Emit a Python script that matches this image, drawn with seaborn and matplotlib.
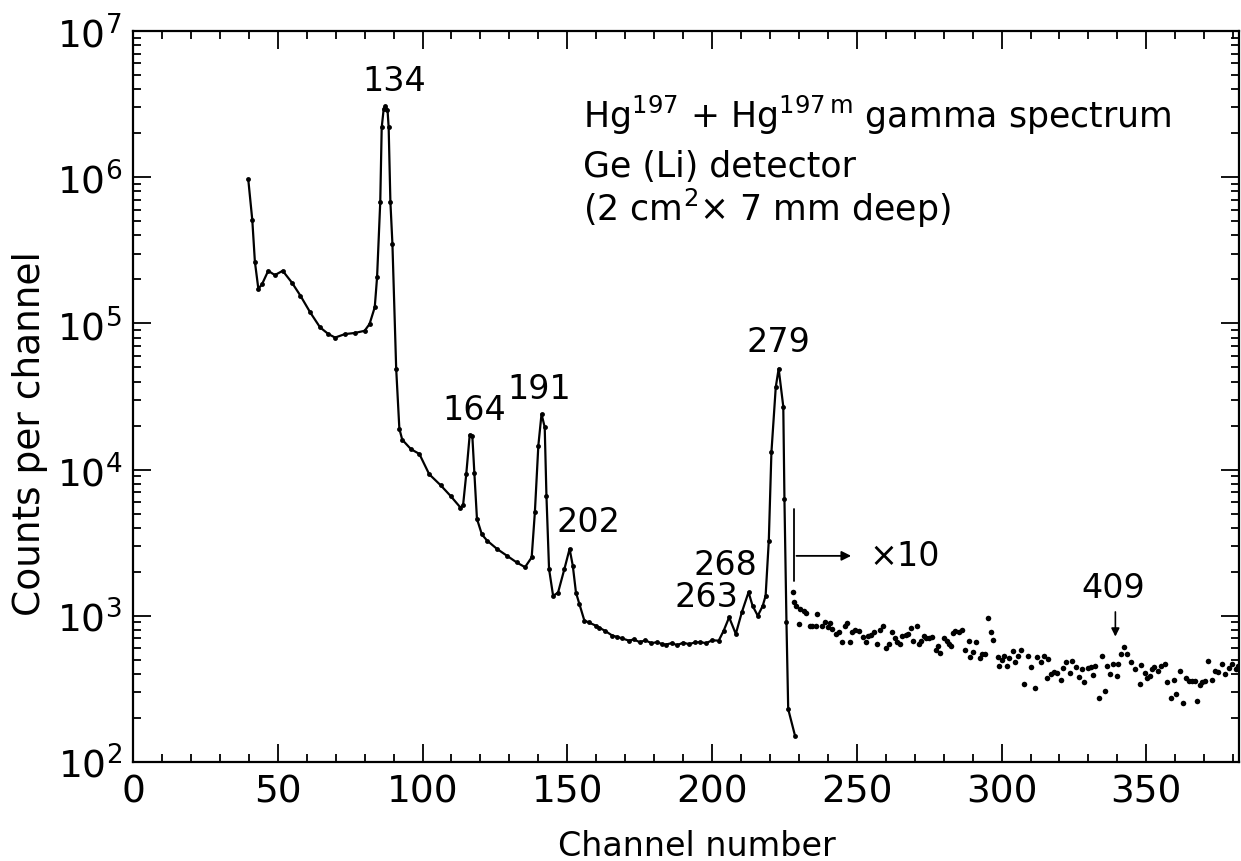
import numpy as np
import pandas as pd
import matplotlib
matplotlib.use("Agg")
import matplotlib.pyplot as plt
import seaborn as sns
from matplotlib.ticker import MultipleLocator, LogLocator, NullFormatter

# main spectrum (solid line with channel dots)
channel = [39.8, 41.2, 42.1, 43.3, 44.6, 46.7, 49.0, 51.7, 54.9, 57.8, 61.2, 64.6,
           67.5, 69.8, 73.2, 76.6, 80.0, 81.7, 83.5, 84.3, 85.4, 85.9, 86.6, 87.2, 87.9,
           88.3, 88.9, 89.6, 90.9, 92.0, 93.0, 96.0, 98.9, 102.3, 106.3, 109.7, 113.1, 114.0,
           115.1, 116.3, 117.2, 117.9, 118.8, 120.5, 122.3, 125.7, 129.1, 132.5, 135.4,
           137.7, 138.8, 140.0, 141.1, 142.2, 142.8, 143.7, 145.1, 146.8, 149.0, 150.8,
           151.9, 153.0, 154.2, 155.9, 157.5, 159.9, 161.0, 163.0, 165.6, 167.0, 169.0,
           171.3, 173.0, 175.0, 177.0, 179.0, 181.0, 182.7, 184.0, 186.0, 188.0, 190.0,
           192.0, 194.2, 196.0, 198.0, 200.0, 202.3, 204.0, 205.9, 208.2, 210.3, 212.6,
           214.0, 215.8, 217.5, 218.5, 219.6, 220.5, 222.0, 223.0, 224.6, 225.0, 225.7,
           226.3, 228.7]
counts = [9.7e5, 5.1e5, 2.64e5, 1.72e5, 1.86e5, 2.29e5, 2.14e5, 2.29e5, 1.90e5, 1.55e5,
          1.19e5, 9.4e4, 8.45e4, 8.0e4, 8.45e4, 8.6e4, 8.9e4, 9.9e4, 1.29e5, 2.07e5,
          6.8e5, 2.19e6, 2.95e6, 3.08e6, 2.9e6, 2.2e6, 6.8e5, 3.5e5, 4.9e4, 1.9e4, 1.6e4,
          1.38e4, 1.28e4, 9.3e3, 7.8e3, 6.6e3, 5.5e3, 5.7e3, 9.3e3, 1.73e4, 1.7e4, 9.5e3,
          4.6e3, 3.6e3, 3.27e3, 2.87e3, 2.58e3, 2.32e3, 2.15e3, 2.51e3, 5.1e3, 1.46e4,
          2.4e4, 1.95e4, 6.6e3, 2.09e3, 1.37e3, 1.44e3, 2.09e3, 2.87e3, 2.2e3, 1.44e3,
          1.2e3, 927, 900, 855, 830, 790, 731, 720, 700, 676, 690, 660, 680, 650, 660,
          641, 635, 650, 630, 655, 640, 658, 660, 650, 680, 676, 790, 977, 752, 1060,
          1450, 1170, 1000, 1170, 1370, 3270, 1.31e4, 3.66e4, 4.9e4, 2.7e4, 6.3e3, 900,
          230, 150]

# x10 continuation (dots only)
x10_channel = [228.0, 228.2, 229.1, 229.9, 230.5, 231.9, 232.6, 234.0, 234.6, 236.0, 236.4,
               237.9, 239.1, 239.9, 240.8, 241.4, 242.8, 244.0, 244.8, 245.8, 246.7, 247.8,
               248.4, 249.5, 250.8, 252.2, 253.1, 253.8, 254.9, 255.8, 256.9, 257.9, 258.9,
               260.1, 261.0, 262.2, 263.1, 264.0, 264.8, 265.7, 266.9, 267.8, 268.7, 269.5,
               270.7, 271.4, 272.2, 273.1, 273.9, 275.1, 275.9, 277.2, 278.1, 278.9, 280.0,
               281.0, 281.9, 282.4, 283.3, 284.0, 285.4, 286.3, 287.4, 288.6, 289.2, 290.1,
               291.1, 292.4, 293.3, 294.1, 295.3, 296.2, 297.2, 298.6, 299.2, 300.0, 300.9,
               301.9, 302.7, 303.9, 304.7, 305.6, 306.6, 307.7, 309.2, 310.3, 311.7, 312.4,
               313.6, 314.6, 315.6, 316.2, 317.1, 318.2, 319.1, 320.5, 321.2, 322.3, 323.8,
               324.4, 325.6, 326.8, 327.7, 328.5, 329.7, 330.9, 331.5, 332.4, 333.5, 334.7,
               335.6, 336.4, 337.3, 338.5, 339.7, 340.3, 341.4, 342.3, 343.4, 344.6, 346.1,
               347.7, 348.1, 349.4, 350.2, 351.4, 352.0, 352.8, 354.0, 355.2, 356.3, 357.3,
               358.5, 359.4, 360.2, 361.7, 362.6, 363.7, 364.9, 365.7, 366.7, 367.6, 368.4,
               369.2, 370.4, 371.4, 372.8, 373.7, 374.9, 376.1, 377.3, 378.5, 379.6, 380.8,
               381.7]
x10_counts = [1462, 1250, 1162, 875, 1114, 1080, 1045, 857, 848, 848, 1029,
              848, 912, 834, 893, 813, 751, 771, 666, 848, 893, 659, 780,
              804, 791, 713, 666, 724, 739, 780, 639, 804, 848, 606, 642, 780,
              702, 659, 642, 731, 739, 751, 821, 677, 857, 642, 677, 724,
              702, 702, 713, 587, 625, 554, 702, 677, 642, 625, 763, 791,
              771, 804, 587, 677, 520, 563, 659, 512, 548, 548, 966, 771, 687,
              520, 456, 501, 534, 456, 512, 578, 486, 528, 587, 342, 528,
              445, 319, 520, 481, 528, 374, 507, 400, 411, 406, 366, 438,
              481, 406, 494, 445, 380, 433, 351, 438, 445, 394, 451, 273,
              534, 308, 451, 400, 468, 386, 468, 548, 615, 548, 481, 433,
              342, 461, 406, 374, 386, 433, 445, 422, 456, 468, 354, 273,
              364, 292, 422, 254, 374, 360, 360, 360, 263, 337, 354, 360,
              494, 364, 422, 415, 468, 400, 440, 470, 430, 455]

peak_labels = ["134", "164", "191", "202", "263", "268", "279", "409"]
label_x = [90.4, 117.7, 140.4, 157.2, 198.0, 204.6, 223.0, 338.7]
label_y = [4.55e6, 2.56e4, 3.56e4, 4.39e3, 1.35e3, 2.26e3, 7.5e4, 1.55e3]

sns.set_style("ticks")
plt.rcParams['font.family'] = ['DejaVu Sans']
plt.rcParams['mathtext.fontset'] = 'dejavusans'
plt.rcParams.update({'text.color': 'black', 'axes.labelcolor': 'black',
                     'xtick.color': 'black', 'ytick.color': 'black'})

fig = plt.figure(figsize=(12.41, 8.62), dpi=100)
ax = fig.add_axes([133 / 1241, 1 - 763 / 862, (1239 - 133) / 1241, (763 - 32) / 862])

main = pd.DataFrame({'channel': channel, 'counts': counts})
sns.lineplot(data=main, x='channel', y='counts', sort=False, estimator=None,
             color='black', linewidth=1.6, marker='o', markersize=3.5,
             markeredgewidth=0, ax=ax)
sns.scatterplot(x=x10_channel, y=x10_counts, color='black', s=16, linewidth=0, ax=ax)

ax.set_yscale('log')
ax.set_xlim(0, 382)
ax.set_ylim(1e2, 1e7)

ax.xaxis.set_major_locator(MultipleLocator(50))
ax.xaxis.set_minor_locator(MultipleLocator(10))
ax.yaxis.set_major_locator(LogLocator(base=10, numticks=10))
ax.yaxis.set_minor_locator(LogLocator(base=10, subs=np.arange(2, 10), numticks=20))
ax.yaxis.set_minor_formatter(NullFormatter())

ax.tick_params(which='both', direction='in', top=True, right=True, width=1.3, colors='black')
ax.tick_params(which='major', length=13, labelsize=27, pad=8)
ax.tick_params(which='minor', length=6)
for s in ax.spines.values():
    s.set_linewidth(1.6)
    s.set_color('black')

ax.set_xlabel("Channel number", fontsize=24, labelpad=14)
ax.set_ylabel("Counts per channel", fontsize=27, labelpad=6)
ax.xaxis.label.set_x(0.51)
ax.yaxis.label.set_y(0.45)

for t, xx, yy in zip(peak_labels, label_x, label_y):
    ax.text(xx, yy, t, fontsize=24, ha='center', va='center')

# 409 arrow
ax.annotate("", xy=(339.3, 690), xytext=(339.3, 1110),
            arrowprops=dict(arrowstyle='-|>', color='black', lw=1.2, mutation_scale=12))

# x10 marker
ax.plot([228.2, 228.2], [1.74e3, 5.4e3], color='black', lw=1.3)
ax.annotate("", xy=(249, 2.57e3), xytext=(228.2, 2.57e3),
            arrowprops=dict(arrowstyle='-|>', color='black', lw=1.3, mutation_scale=14))
ax.text(254.5, 2.57e3, "×10", fontsize=24, ha='left', va='center')

ax.text(0.407, 0.869, r"Hg$^{197}$ + Hg$^{197\,\mathrm{m}}$ gamma spectrum", fontsize=25,
        transform=ax.transAxes, ha='left', va='baseline')
ax.text(0.407, 0.802, "Ge (Li) detector", fontsize=25,
        transform=ax.transAxes, ha='left', va='baseline')
ax.text(0.407, 0.742, r"(2 cm$^{2}$× 7 mm deep)", fontsize=25,
        transform=ax.transAxes, ha='left', va='baseline')

fig.savefig("out.png", dpi=100)
